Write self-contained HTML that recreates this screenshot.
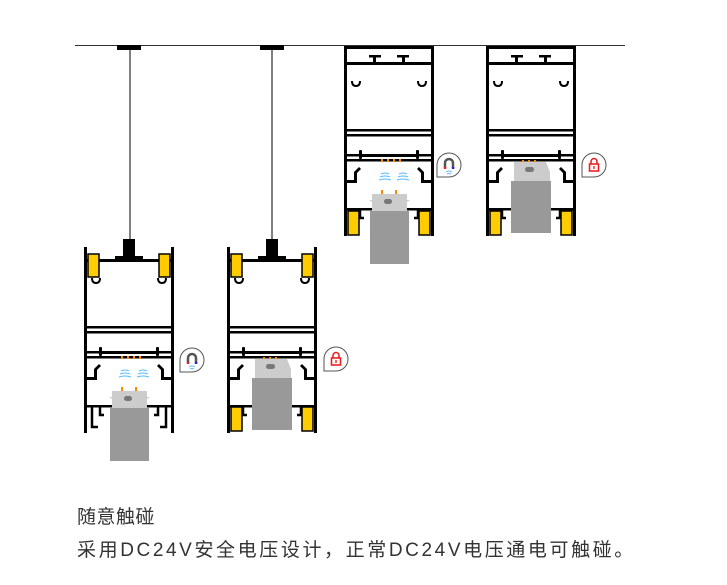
<!DOCTYPE html>
<html><head><meta charset="utf-8"><style>
html,body{margin:0;padding:0;background:#fff;width:727px;height:585px;overflow:hidden}
.t{position:absolute;left:77px;font-family:"Liberation Sans","Noto Sans CJK SC",sans-serif;font-size:19px;color:#333;white-space:nowrap}
</style></head><body>
<svg width="727" height="585" style="position:absolute;left:0;top:0">
<defs>
<g id="body">
 <rect x="0" y="0" width="3" height="186" fill="#000"/>
 <rect x="87" y="0" width="3" height="186" fill="#000"/>
 <rect x="3" y="12" width="84" height="3" fill="#000"/>
 <path d="M8 31 q0 5 4 5 q4 0 4 -5 M82 31 q0 5 -4 5 q-4 0 -4 -5" fill="none" stroke="#000" stroke-width="2"/>
 <rect x="0" y="79" width="90" height="2.5"/>
 <rect x="0" y="84" width="90" height="2.5"/>
 <rect x="16" y="104" width="58" height="3"/>
 <rect x="15" y="100" width="3" height="9" rx="1"/><rect x="72" y="100" width="3" height="9" rx="1"/>
 <rect x="0" y="104" width="15" height="2.5"/><rect x="75" y="104" width="15" height="2.5"/>
 <rect x="0" y="109" width="90" height="2.5"/>
 <path d="M0 130 H10 V122 L15 117 L17 119 L13 123 V133 H0Z M90 130 H80 V122 L75 117 L73 119 L77 123 V133 H90Z"/>
 <rect x="0" y="158" width="90" height="2.5"/>
 <path d="M8 160 V180 H14 M82 160 V180 H76" fill="none" stroke="#000" stroke-width="2.5"/>
 <path d="M16 160 V168 H20 M74 160 V168 H70" fill="none" stroke="#000" stroke-width="2.5"/>
</g>
<g id="mag">
 <path d="M12 0 A12 12 0 1 1 12 24 H0 V12 A12 12 0 0 1 12 0Z" fill="#fff" stroke="#555" stroke-width="1"/>
 <path d="M8 15 V10 A4 4 0 0 1 16 10 V15" fill="none" stroke="#555" stroke-width="2.5"/>
 <rect x="6.8" y="14" width="2.5" height="2" fill="#e22"/><rect x="14.8" y="14" width="2.5" height="2" fill="#22e"/>
 <path d="M9 19 Q12 17 15 19 M10 21 Q12 20 14 21" stroke="#6bf" fill="none"/>
</g>
<g id="lock">
 <path d="M12 0 A12 12 0 1 1 12 24 H0 V12 A12 12 0 0 1 12 0Z" fill="#fff" stroke="#555" stroke-width="1"/>
 <path d="M9 11 V8.5 A3 3 0 0 1 15 8.5 V11" fill="none" stroke="#e22" stroke-width="1.6"/>
 <rect x="7.5" y="11" width="9" height="7" fill="none" stroke="#e22" stroke-width="1.6"/>
 <rect x="11.3" y="13" width="1.4" height="3" fill="#e22"/>
</g>
<g id="sensor">
 <rect x="37" y="109" width="2" height="3" fill="#f80"/><rect x="43" y="109" width="2" height="3" fill="#f80"/><rect x="49" y="109" width="2" height="3" fill="#f80"/><rect x="55" y="109" width="2" height="3" fill="#f80"/>
 <path d="M37 124 q4 -2 8 0 M36 127 q5 -2 10 0 M35 130 q6 -2 12 0 M55 124 q4 -2 8 0 M54 127 q5 -2 10 0 M53 130 q6 -2 12 0" stroke="#5bf" fill="none" stroke-width="1"/>
 <rect x="37" y="140" width="2" height="4" fill="#f80"/><rect x="51" y="140" width="2" height="4" fill="#f80"/>
 <path d="M28 144 H63 V150 H66 L63 152 V161 H28 V152 L25 150 H28Z" fill="#ccc"/>
 <rect x="40" y="149" width="8" height="5" rx="2.5" fill="#777"/>
 <rect x="26" y="161" width="39" height="53" fill="#999"/>
</g>
<g id="sensorLock">
 <rect x="36" y="110" width="2" height="3" fill="#f80"/><rect x="42" y="110" width="2" height="3" fill="#f80"/><rect x="48" y="110" width="2" height="3" fill="#f80"/>
 <path d="M28 112 H60 L64 122 V131 H28Z" fill="#ccc"/>
 <rect x="39" y="117" width="9" height="5" rx="2.5" fill="#777"/>
 <rect x="25" y="131" width="40" height="52" fill="#999"/>
</g>
</defs>
<line x1="75" y1="45.5" x2="625" y2="45.5" stroke="#333" stroke-width="1"/>
<line x1="130" y1="46" x2="130" y2="240" stroke="#000"/>
<rect x="117" y="45" width="24" height="5" fill="#000"/>
<g transform="translate(84,247)">
 <use href="#body"/>
 <rect x="39" y="-8" width="12" height="21" fill="#000"/><rect x="31" y="9" width="28" height="3"/>
 <rect x="4" y="7" width="11" height="23" fill="#fc0" stroke="#000" stroke-width="1.5"/>
 <rect x="75" y="7" width="11" height="23" fill="#fc0" stroke="#000" stroke-width="1.5"/>
 <use href="#sensor"/>
</g>
<use href="#mag" transform="translate(180,348)"/>
<line x1="272" y1="46" x2="272" y2="240" stroke="#000"/>
<rect x="260" y="45" width="24" height="5" fill="#000"/>
<g transform="translate(227,247)">
 <use href="#body"/>
 <rect x="39" y="-8" width="12" height="21" fill="#000"/><rect x="31" y="9" width="28" height="3"/>
 <rect x="4" y="7" width="11" height="23" fill="#fc0" stroke="#000" stroke-width="1.5"/>
 <rect x="75" y="7" width="11" height="23" fill="#fc0" stroke="#000" stroke-width="1.5"/>
 <rect x="4" y="160" width="11" height="24" fill="#fc0" stroke="#000" stroke-width="1.5"/>
 <rect x="75" y="160" width="11" height="24" fill="#fc0" stroke="#000" stroke-width="1.5"/>
 <use href="#sensorLock"/>
</g>
<use href="#lock" transform="translate(324,347)"/>
<g transform="translate(344,50)">
 <rect x="0" y="-4" width="90" height="3"/><rect x="0" y="-4" width="3" height="10"/><rect x="87" y="-4" width="3" height="10"/>
 <use href="#body"/>
 <rect x="25" y="5" width="12" height="2.5"/><rect x="53" y="5" width="12" height="2.5"/>
 <rect x="29" y="5" width="3" height="8"/><rect x="58" y="5" width="3" height="8"/>
 <rect x="4" y="161" width="11" height="24" fill="#fc0" stroke="#000" stroke-width="1.5"/>
 <rect x="75" y="161" width="11" height="24" fill="#fc0" stroke="#000" stroke-width="1.5"/>
 <use href="#sensor"/>
</g>
<use href="#mag" transform="translate(437,153)"/>
<g transform="translate(486,50)">
 <rect x="0" y="-4" width="90" height="3"/><rect x="0" y="-4" width="3" height="10"/><rect x="87" y="-4" width="3" height="10"/>
 <use href="#body"/>
 <rect x="25" y="5" width="12" height="2.5"/><rect x="53" y="5" width="12" height="2.5"/>
 <rect x="29" y="5" width="3" height="8"/><rect x="58" y="5" width="3" height="8"/>
 <rect x="4" y="161" width="11" height="24" fill="#fc0" stroke="#000" stroke-width="1.5"/>
 <rect x="75" y="161" width="11" height="24" fill="#fc0" stroke="#000" stroke-width="1.5"/>
 <use href="#sensorLock"/>
</g>
<use href="#lock" transform="translate(582,153)"/>
</svg>
<div class="t" style="top:502px;letter-spacing:0.5px">随意触碰</div>
<div class="t" style="top:535px;letter-spacing:2.6px">采用DC24V安全电压设计，正常DC24V电压通电可触碰。</div>
</body></html>
